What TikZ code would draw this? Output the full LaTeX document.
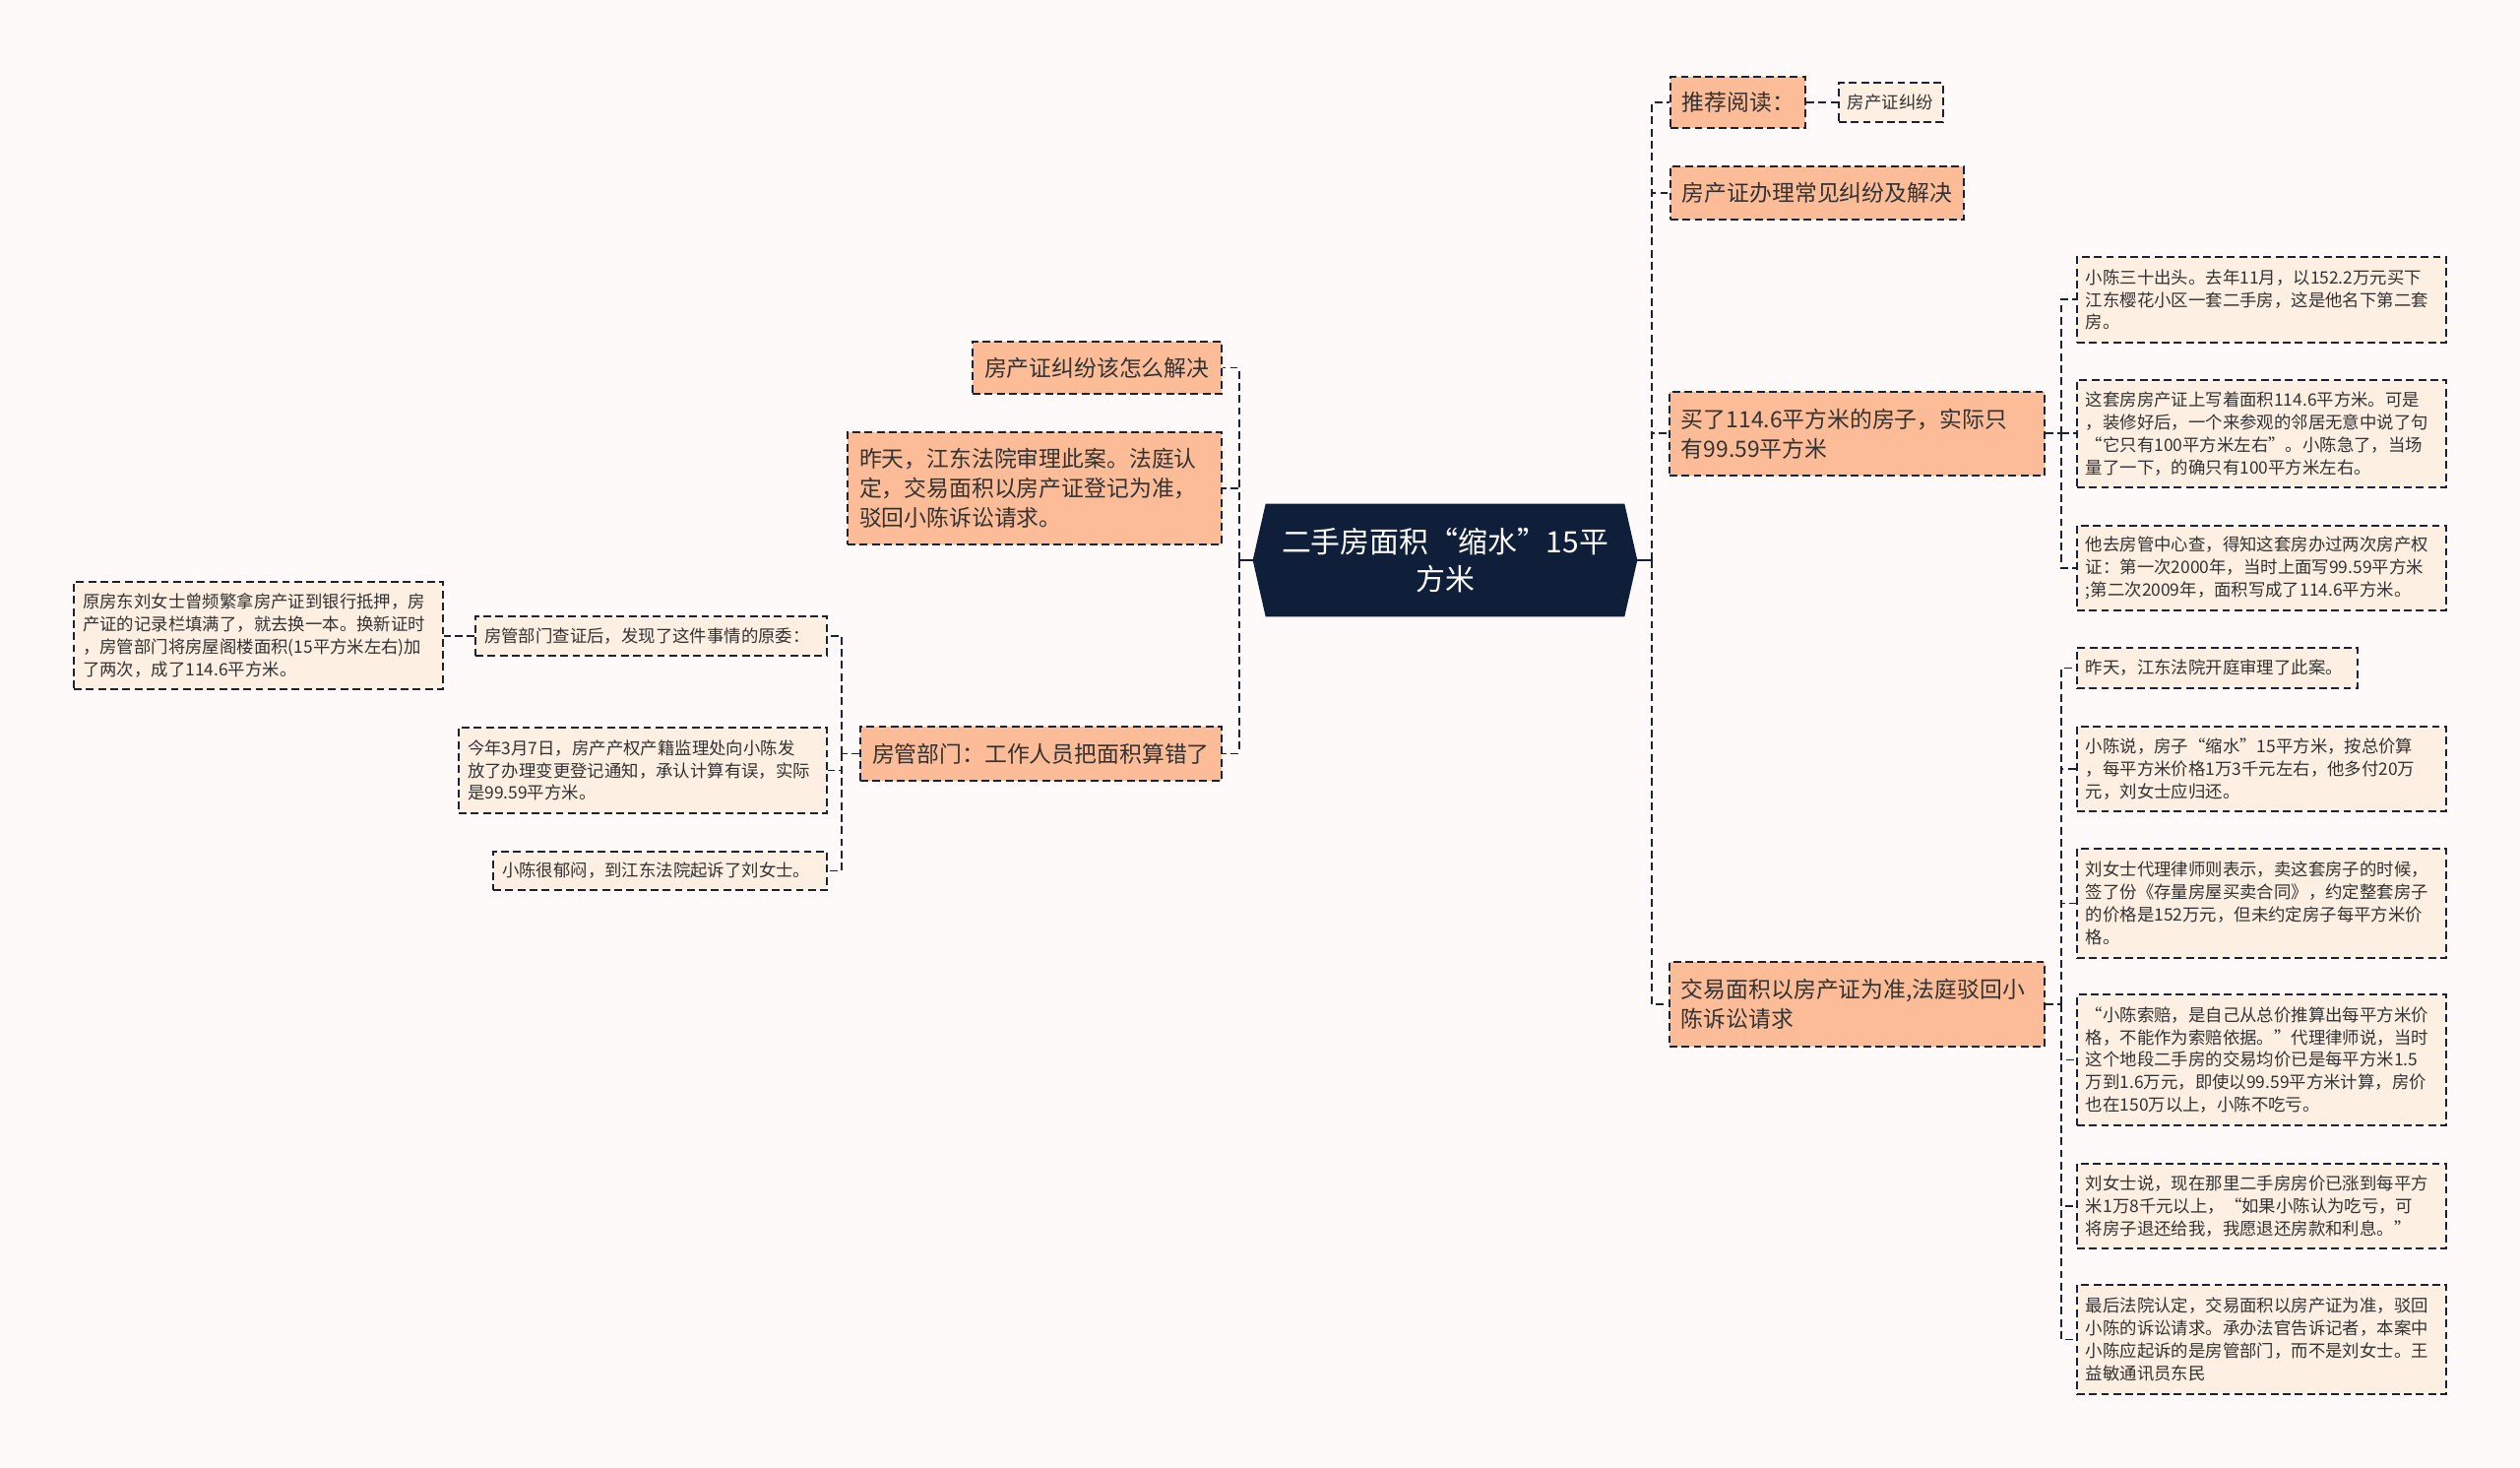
\documentclass[tikz,border=0pt]{standalone}
\usepackage{fontspec}
\setmainfont{Noto Sans CJK SC}
\usepackage{xcolor}
\usetikzlibrary{backgrounds,positioning}
\definecolor{PageTint}{HTML}{FDFAF9}
\definecolor{RootNavy}{HTML}{0F1F3A}
\definecolor{TopicFill}{HTML}{FCBC98}
\definecolor{DetailFill}{HTML}{FDEFE2}
\definecolor{LineInk}{HTML}{1A2233}
\definecolor{TextInk}{HTML}{333333}
\tikzset{
  map/.style={x=0.02cm,y=-0.02cm,text=TextInk,font=\fontsize{9.9}{13}\selectfont},
  hub/.style={text=white,align=center,minimum width=7.8cm,minimum height=2.28cm,
    font=\fontsize{17}{22}\selectfont},
  topic/.style={draw=LineInk,dash pattern=on 4.5pt off 2.5pt,line width=1.1pt,fill=TopicFill,
    align=left,inner xsep=0.24cm,inner ysep=0pt,font=\fontsize{13}{17}\selectfont},
  detail/.style={draw=LineInk,dash pattern=on 4.5pt off 2.5pt,line width=1.1pt,fill=DetailFill,
    align=left,inner xsep=0.18cm,inner ysep=0pt},
  link/.style={draw=LineInk,dash pattern=on 4.5pt off 2.5pt,line width=1.1pt},
  hublink/.style={draw=RootNavy,line width=1.4pt},
}

\begin{document}
\begin{tikzpicture}[map]
  \useasboundingbox (0,0) rectangle (2560,1491);

  \node[hub] (root) at (1468,569) {二手房面积“缩水”15平\\方米};

  % right side
  \node[topic,anchor=north west,text width=2.26cm,minimum height=1.04cm] (read) at (1696,77) {推荐阅读：};
  \node[detail,anchor=north west,text width=1.76cm,minimum height=0.80cm] (readItem) at (1867,83) {房产证纠纷};
  \node[topic,anchor=north west,text width=5.48cm,minimum height=1.08cm] (faq) at (1696,168) {房产证办理常见纠纷及解决};
  \node[topic,anchor=north west,text width=7.14cm,minimum height=1.70cm] (buy) at (1695,397)
    {买了114.6平方米的房子，实际只\\有99.59平方米};
  \node[topic,anchor=north west,text width=7.14cm,minimum height=1.72cm] (deal) at (1695,976)
    {交易面积以房产证为准,法庭驳回小\\陈诉讼请求};

  \node[detail,anchor=north west,text width=7.14cm,minimum height=1.74cm] (buyA) at (2109,260)
    {小陈三十出头。去年11月，以152.2万元买下\\江东樱花小区一套二手房，这是他名下第二套\\房。};
  \node[detail,anchor=north west,text width=7.14cm,minimum height=2.18cm] (buyB) at (2109,385)
    {这套房房产证上写着面积114.6平方米。可是\\，装修好后，一个来参观的邻居无意中说了句\\“它只有100平方米左右”。小陈急了，当场\\量了一下，的确只有100平方米左右。};
  \node[detail,anchor=north west,text width=7.14cm,minimum height=1.72cm] (buyC) at (2109,533)
    {他去房管中心查，得知这套房办过两次房产权\\证：第一次2000年，当时上面写99.59平方米\\;第二次2009年，面积写成了114.6平方米。};

  \node[detail,anchor=north west,text width=5.34cm,minimum height=0.82cm] (dealA) at (2109,657)
    {昨天，江东法院开庭审理了此案。};
  \node[detail,anchor=north west,text width=7.14cm,minimum height=1.72cm] (dealB) at (2109,737)
    {小陈说，房子“缩水”15平方米，按总价算\\，每平方米价格1万3千元左右，他多付20万\\元，刘女士应归还。};
  \node[detail,anchor=north west,text width=7.14cm,minimum height=2.22cm] (dealC) at (2109,861)
    {刘女士代理律师则表示，卖这套房子的时候，\\签了份《存量房屋买卖合同》，约定整套房子\\的价格是152万元，但未约定房子每平方米价\\格。};
  \node[detail,anchor=north west,text width=7.14cm,minimum height=2.66cm] (dealD) at (2109,1009)
    {“小陈索赔，是自己从总价推算出每平方米价\\格，不能作为索赔依据。”代理律师说，当时\\这个地段二手房的交易均价已是每平方米1.5\\万到1.6万元，即使以99.59平方米计算，房价\\也在150万以上，小陈不吃亏。};
  \node[detail,anchor=north west,text width=7.14cm,minimum height=1.72cm] (dealE) at (2109,1181)
    {刘女士说，现在那里二手房房价已涨到每平方\\米1万8千元以上，“如果小陈认为吃亏，可\\将房子退还给我，我愿退还房款和利息。”};
  \node[detail,anchor=north west,text width=7.14cm,minimum height=2.22cm] (dealF) at (2109,1304)
    {最后法院认定，交易面积以房产证为准，驳回\\小陈的诉讼请求。承办法官告诉记者，本案中\\小陈应起诉的是房管部门，而不是刘女士。王\\益敏通讯员东民};

  % left side
  \node[topic,anchor=north east,text width=4.58cm,minimum height=1.06cm] (howto) at (1242,346) {房产证纠纷该怎么解决};
  \node[topic,anchor=north east,text width=7.12cm,minimum height=2.28cm] (court) at (1242,438)
    {昨天，江东法院审理此案。法庭认\\定，交易面积以房产证登记为准，\\驳回小陈诉讼请求。};
  \node[topic,anchor=north east,text width=6.86cm,minimum height=1.10cm] (dept) at (1242,737)
    {房管部门：工作人员把面积算错了};

  \node[detail,anchor=north east,text width=6.78cm,minimum height=0.80cm] (deptA) at (841,625)
    {房管部门查证后，发现了这件事情的原委：};
  \node[detail,anchor=north east,text width=7.12cm,minimum height=1.74cm] (deptB) at (841,738)
    {今年3月7日，房产产权产籍监理处向小陈发\\放了办理变更登记通知，承认计算有误，实际\\是99.59平方米。};
  \node[detail,anchor=north east,text width=6.42cm,minimum height=0.78cm] (deptC) at (841,864)
    {小陈很郁闷，到江东法院起诉了刘女士。};
  \node[detail,anchor=north east,text width=7.14cm,minimum height=2.18cm] (origin) at (451,590)
    {原房东刘女士曾频繁拿房产证到银行抵押，房\\产证的记录栏填满了，就去换一本。换新证时\\，房管部门将房屋阁楼面积(15平方米左右)加\\了两次，成了114.6平方米。};

  % connectors
  \coordinate (rtrunk) at ([xshift=0.30cm]root.east);
  \coordinate (ltrunk) at ([xshift=-0.28cm]root.west);
  \coordinate (buyfork) at ([xshift=0.32cm]buy.east);
  \coordinate (dealfork) at ([xshift=0.32cm]deal.east);
  \coordinate (deptfork) at ([xshift=-0.36cm]dept.west);

  \draw[hublink] (root.east) -- (rtrunk);
  \draw[hublink] (root.west) -- (ltrunk);
  \foreach \n in {read,faq,buy,deal} \draw[link] (rtrunk) |- (\n.west);
  \foreach \n in {howto,court,dept} \draw[link] (ltrunk) |- (\n.east);
  \draw[link] (read.east) -- (read.east -| readItem.west);

  \draw[link] (buy.east) -- (buyfork);
  \foreach \n in {buyA,buyB,buyC} \draw[link] (buyfork) |- (\n.west);
  \draw[link] (deal.east) -- (dealfork);
  \foreach \n in {dealA,dealB,dealC,dealD,dealE,dealF} \draw[link] (dealfork) |- (\n.west);

  \draw[link] (dept.west) -- (deptfork);
  \foreach \n in {deptA,deptB,deptC} \draw[link] (deptfork) |- (\n.east);
  \draw[link] (deptA.west) -- (deptA.west -| origin.east);

  \begin{scope}[on background layer]
    \fill[PageTint] (0,0) rectangle (2560,1491);
    \fill[RootNavy] (root.west) -- ([xshift=0.26cm]root.north west) -- ([xshift=-0.26cm]root.north east)
      -- (root.east) -- ([xshift=-0.26cm]root.south east) -- ([xshift=0.26cm]root.south west) -- cycle;
  \end{scope}
\end{tikzpicture}
\end{document}
